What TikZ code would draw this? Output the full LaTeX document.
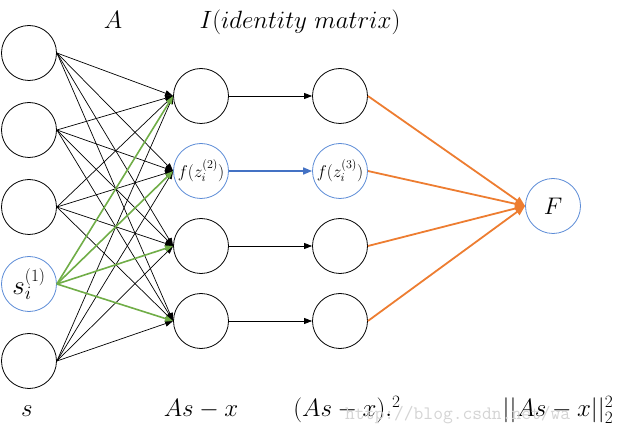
\documentclass[tikz,border=0pt]{standalone}
\usepackage{fontspec}
\DeclareFontShape{OML}{cmm}{m}{it}{<-6> cmmi5 <6-7> cmmi6 <7-8> cmmi7 <8-9> cmmi8 <9-10> cmmi9 <10-12> cmmi10 <12-> cmmi12}{\skewchar\font'177}
\DeclareFontShape{OMS}{cmsy}{m}{n}{<-6> cmsy5 <6-7> cmsy6 <7-8> cmsy7 <8-9> cmsy8 <9-10> cmsy9 <10-> cmsy10}{\skewchar\font'60}
\usetikzlibrary{arrows.meta}
\definecolor{ogreen}{HTML}{70AD47}
\definecolor{oblue}{HTML}{4472C4}
\definecolor{lblue}{HTML}{5B8BD6}
\definecolor{oorange}{HTML}{ED7D31}
\definecolor{wmgray}{HTML}{D4D4D4}
\tikzset{
  neuron/.style={circle,draw=black,line width=0.8pt,minimum size=55pt,inner sep=0pt},
  hineuron/.style={neuron,draw=lblue},
  lab/.style={anchor=base,inner sep=0pt,font=\fontsize{25}{28}\selectfont},
  blk/.style={draw=black,line width=0.7pt,-{Triangle[length=8pt,width=6pt]}},
  grn/.style={draw=ogreen,line width=1.6pt,-{Triangle[length=8pt,width=6pt]}},
  blu/.style={draw=oblue,line width=1.6pt,-{Triangle[length=9pt,width=7pt]}},
  org/.style={draw=oorange,line width=1.8pt,-{Triangle[length=10pt,width=8pt]}}
}
\begin{document}
\begin{tikzpicture}[x=1pt,y=-1pt]
\useasboundingbox (0,0) rectangle (625,433);
% column 1
\node[neuron] (a1) at (29,53) {};
\node[neuron] (a2) at (29,130) {};
\node[neuron] (a3) at (29,207) {};
\node[hineuron,font=\fontsize{27}{30}\selectfont] (a4) at (29,284) {$s_i^{(1)}$};
\node[neuron] (a5) at (29,361) {};
% column 2
\node[neuron] (b1) at (201,96) {};
\node[hineuron,font=\fontsize{17}{19}\selectfont] (b2) at (201,171) {$f(z_i^{(2)})$};
\node[neuron] (b3) at (201,246) {};
\node[neuron] (b4) at (201,321) {};
% column 3
\node[neuron] (c1) at (340,96) {};
\node[hineuron,font=\fontsize{17}{19}\selectfont] (c2) at (340,171) {$f(z_i^{(3)})$};
\node[neuron] (c3) at (340,246) {};
\node[neuron] (c4) at (340,321) {};
% output
\node[hineuron,font=\fontsize{24}{26}\selectfont] (F) at (553,206) {$F$};
% labels
\node[lab] (lA) at (113,29) {$A$};
\node[lab] (lI) at (300,29) {$I(identity\ matrix)$};
\node[lab] (ls) at (27,417) {$s$};
\node[lab] (lAs) at (201,417) {$As-x$};
\node[lab] (lsq) at (347,417) {$(As-x).^2$};
\node[lab] (lnorm) at (558,417) {$||As-x||_2^2$};
% watermark
\node[anchor=base west,inner sep=0pt,text=wmgray,font=\ttfamily\fontsize{19}{21}\selectfont] (wm) at (345,420) {http://blog.csdn.net/wa};
% connections col1 -> col2
\foreach \i in {1,2,3,5}{
  \foreach \j in {1,2,3,4}{
    \draw[blk] (a\i.east) -- (b\j.west);
  }
}
\foreach \j in {1,2,3,4}{
  \draw[grn] (a4.east) -- (b\j.west);
}
% col2 -> col3
\draw[blk] (b1.east) -- (c1.west);
\draw[blu] (b2.east) -- (c2.west);
\draw[blk] (b3.east) -- (c3.west);
\draw[blk] (b4.east) -- (c4.west);
% col3 -> F
\foreach \j in {1,2,3,4}{
  \draw[org] (c\j.east) -- (F.west);
}
\end{tikzpicture}
\end{document}
